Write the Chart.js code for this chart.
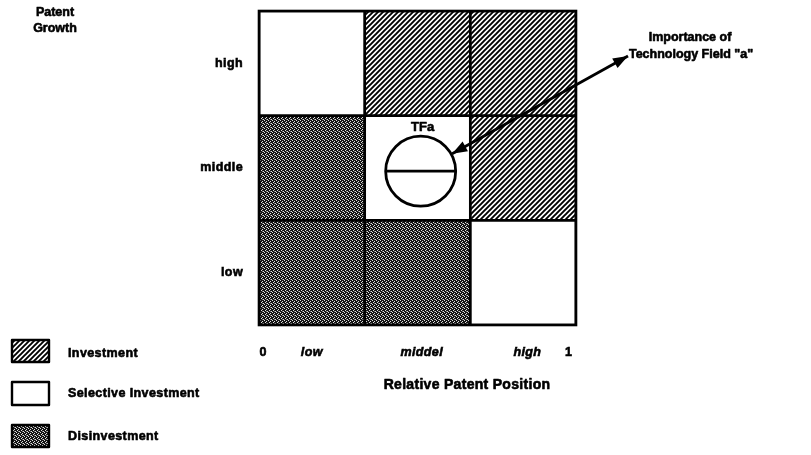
<!DOCTYPE html>
<html><head><meta charset="utf-8">
<script src="https://cdn.jsdelivr.net/npm/chart.js@4.4.1/dist/chart.umd.min.js"></script>
<style>html,body{margin:0;padding:0;background:#fff;}#wrap{width:811px;height:455px;position:relative;}</style>
</head><body><div id="wrap"><canvas id="c"></canvas></div>
<script>
// ---- data ----
const columnLabels = ['low', 'middel', 'high'];          // Relative Patent Position
const rowLabels = ['low', 'middle', 'high'];             // Patent Growth
const xTickLabels = ['0', 'low', 'middel', 'high', '1'];
const xTickValues = [0.04, 0.5, 1.54, 2.54, 2.93];
const yTickValues = [0.5, 1.5, 2.5];
const strategyNames = ['Investment', 'Selective Investment', 'Disinvestment'];
// cells as [column index, row index]; row 0 = low growth
const investmentCells = [[1, 2], [2, 2], [2, 1]];
const selectiveCells = [[0, 2], [1, 1], [2, 0]];
const disinvestmentCells = [[0, 1], [0, 0], [1, 0]];
const fieldName = 'TFa';
const fieldCell = [1.53, 1.47];
const fieldNote = ['Importance of', 'Technology Field "a"'];
const yTitle = ['Patent', 'Growth'];
const xTitle = 'Relative Patent Position';

const FONT = '"Liberation Sans", Arial, Helvetica, sans-serif';
const c = document.getElementById('c');
const ctx0 = c.getContext('2d');

function hatchPattern() {
  const p = document.createElement('canvas'); p.width = 5; p.height = 5;
  const g = p.getContext('2d');
  g.fillStyle = '#fff'; g.fillRect(0, 0, 5, 5);
  g.strokeStyle = '#000'; g.lineWidth = 1.9;
  g.beginPath();
  g.moveTo(-1, 6); g.lineTo(6, -1);
  g.moveTo(-1, 1); g.lineTo(1, -1);
  g.moveTo(4, 6); g.lineTo(6, 4);
  g.stroke();
  return ctx0.createPattern(p, 'repeat');
}
function stipplePattern() {
  const p = document.createElement('canvas'); p.width = 4; p.height = 4;
  const g = p.getContext('2d');
  g.fillStyle = '#141414'; g.fillRect(0, 0, 4, 4);
  g.fillStyle = '#e0e0e0';
  g.fillRect(0, 0, 1, 1); g.fillRect(2, 1, 1, 1); g.fillRect(1, 2, 1, 1); g.fillRect(3, 3, 1, 1);
  g.fillStyle = '#777';
  g.fillRect(2, 3, 1, 1);
  return ctx0.createPattern(p, 'repeat');
}
const fills = [hatchPattern(), '#ffffff', stipplePattern()];
const cellSets = [investmentCells, selectiveCells, disinvestmentCells];

const toBars = cells => cells.map(([col, row]) => ({ x: col + 0.5, y: [row, row + 1] }));

const barSets = strategyNames.map((name, i) => ({
  type: 'bar', label: name, data: toBars(cellSets[i]), xAxisID: 'x', yAxisID: 'y',
  backgroundColor: fills[i], borderColor: '#000', borderWidth: 1.7, borderSkipped: false,
  grouped: false, barPercentage: 1, categoryPercentage: 1, order: 0
}));

const circleSet = { type: 'scatter', label: fieldName, data: [{ x: fieldCell[0], y: fieldCell[1] }],
  xAxisID: 'x', yAxisID: 'y',
  pointRadius: 35, pointStyle: 'circle', backgroundColor: '#fff', borderColor: '#000', borderWidth: 2.8, order: -1 };
const lineSet = { type: 'scatter', label: fieldName + ' line', data: [{ x: fieldCell[0], y: fieldCell[1] }],
  xAxisID: 'x', yAxisID: 'y',
  pointRadius: 35, pointStyle: 'line', borderColor: '#000', borderWidth: 2.8, order: -2 };

const spacing = {
  id: 'spacing',
  beforeDraw(chart) { chart.ctx.save(); chart.ctx.letterSpacing = '0.4px'; },
  beforeDatasetsDraw(chart) { chart.ctx.restore(); }
};

function heavyText(ctx, s, x, y, w) {
  ctx.lineWidth = w; ctx.strokeStyle = '#000'; ctx.lineJoin = 'round';
  ctx.strokeText(s, x, y); ctx.fillText(s, x, y);
}

const decor = {
  id: 'decor',
  afterDatasetsDraw(chart) {
    const { ctx, chartArea: a } = chart;
    ctx.save();
    ctx.letterSpacing = '0px';
    ctx.strokeStyle = '#000'; ctx.lineWidth = 2.6;
    ctx.strokeRect(a.left, a.top, a.right - a.left, a.bottom - a.top);
    const pt = chart.getDatasetMeta(chart.data.datasets.indexOf(circleSet)).data[0];
    const cx = pt.x, cy = pt.y, r = 35;
    ctx.fillStyle = '#000'; ctx.textAlign = 'center'; ctx.textBaseline = 'middle';
    ctx.font = 'bold 13px ' + FONT;
    heavyText(ctx, fieldName, cx + 2, cy - r - 9, 0.6);
    // arrow
    const ex = 628, ey = 56;
    const ang = Math.atan2(ey - cy, ex - cx);
    const sx = cx + (r + 1) * Math.cos(ang), sy = cy + (r + 1) * Math.sin(ang);
    ctx.lineWidth = 2.8;
    ctx.beginPath(); ctx.moveTo(sx, sy); ctx.lineTo(ex, ey); ctx.stroke();
    const head = (x, y, a2) => {
      ctx.beginPath();
      ctx.moveTo(x, y);
      ctx.lineTo(x - 15 * Math.cos(a2) + 5.5 * Math.sin(a2), y - 15 * Math.sin(a2) - 5.5 * Math.cos(a2));
      ctx.lineTo(x - 15 * Math.cos(a2) - 5.5 * Math.sin(a2), y - 15 * Math.sin(a2) + 5.5 * Math.cos(a2));
      ctx.closePath(); ctx.fill();
    };
    head(ex, ey, ang); head(sx, sy, ang + Math.PI);
    // annotation text
    ctx.font = 'bold 12.5px ' + FONT;
    heavyText(ctx, fieldNote[0], 690, 38, 0.6);
    heavyText(ctx, fieldNote[1], 691, 55, 0.6);
    // y title
    heavyText(ctx, yTitle[0], 55, 13, 0.6);
    heavyText(ctx, yTitle[1], 55, 29, 0.6);
    // x title
    ctx.font = 'bold 14px ' + FONT;
    ctx.letterSpacing = '0.3px';
    heavyText(ctx, xTitle, 467, 385, 0.6);
    // legend
    const sw = [[12, 340, 37, 22], [12, 382, 37, 23], [12, 425, 37, 22]];
    const ty = [354, 394, 437];
    ctx.textAlign = 'left'; ctx.font = 'bold 12.5px ' + FONT;
    ctx.letterSpacing = '0.4px';
    strategyNames.forEach((n, i) => {
      const [x, y, w, h] = sw[i];
      ctx.fillStyle = chart.data.datasets[i].backgroundColor;
      ctx.fillRect(x, y, w, h);
      ctx.strokeStyle = '#000'; ctx.lineWidth = 2.4;
      ctx.strokeRect(x, y, w, h);
      ctx.fillStyle = '#000';
      heavyText(ctx, n, 68, ty[i], 0.6);
    });
    ctx.restore();
  }
};

new Chart(c, {
  data: { datasets: [...barSets, circleSet, lineSet] },
  options: {
    responsive: true, maintainAspectRatio: false, animation: false,
    layout: { autoPadding: false, padding: { top: 11, right: 235, left: 0, bottom: 0 } },
    plugins: { legend: { display: false }, tooltip: { enabled: false } },
    scales: {
      x: {
        type: 'linear', min: 0, max: 3, offset: false, display: false,
        afterBuildTicks: s => { s.ticks = [0, 1, 2, 3].map(v => ({ value: v })); }
      },
      xLabels: {
        type: 'linear', position: 'bottom', min: 0, max: 3, offset: false,
        afterBuildTicks: s => { s.ticks = xTickValues.map(v => ({ value: v })); },
        afterFit: s => { s.height = 130; s.paddingLeft = 0; s.paddingRight = 0; },
        grid: { display: false, drawTicks: false }, border: { display: false },
        ticks: {
          autoSkip: false, maxRotation: 0, padding: 20, color: '#000',
          textStrokeColor: '#000', textStrokeWidth: 0.6,
          callback: (v, i) => xTickLabels[i],
          font: ctx => ({ family: FONT, size: 12.5, weight: 'bold',
            style: (ctx.index === 0 || ctx.index === xTickValues.length - 1) ? 'normal' : 'italic' })
        }
      },
      y: {
        type: 'linear', min: 0, max: 3,
        afterBuildTicks: s => { s.ticks = yTickValues.map(v => ({ value: v })); },
        afterFit: s => { s.width = 259; s.paddingTop = 0; s.paddingBottom = 0; },
        grid: { display: false, drawTicks: false }, border: { display: false },
        ticks: {
          autoSkip: false, padding: 16, color: '#000',
          textStrokeColor: '#000', textStrokeWidth: 0.6,
          callback: v => rowLabels[Math.floor(v)],
          font: { family: FONT, size: 12.5, weight: 'bold' }
        }
      }
    }
  },
  plugins: [spacing, decor]
});
</script></body></html>
